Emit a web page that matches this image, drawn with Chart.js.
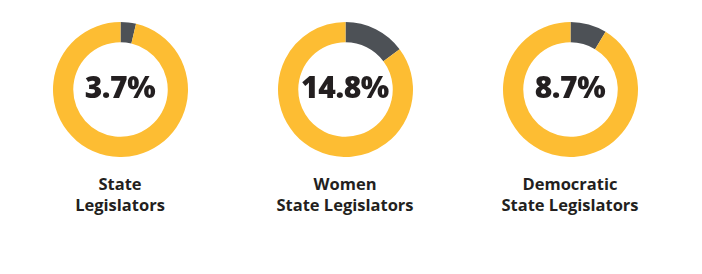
<!DOCTYPE html>
<html>
<head>
<meta charset="utf-8">
<script src="https://cdn.jsdelivr.net/npm/chart.js@4"></script>
<style>
  html, body { margin: 0; padding: 0; background: #ffffff; }
  body { width: 702px; height: 274px; position: relative; overflow: hidden; font-family: "Open Sans", sans-serif; }
  .wrap { position: absolute; }
  .wrap canvas { position: absolute; left: 0; top: 0; }
  .center { position: absolute; font-weight: 800; font-size: 30px; color: #231f20; text-align: center; white-space: nowrap; letter-spacing: -0.4px; }
  .label { position: absolute; font-weight: 700; font-size: 16.5px; line-height: 21px; color: #231f20; text-align: center; white-space: nowrap; width: 220px; }
</style>
</head>
<body>
<script>
const categories = [["State", "Legislators"], ["Women", "State Legislators"], ["Democratic", "State Legislators"]];
const shareValues = [3.7, 14.8, 8.7];
const centerLabels = ["3.7%", "14.8%", "8.7%"];

const centersX = [120, 345, 570];
const centerY = 89.5;
const size = 135;
const grey = "#4d5156";
const yellow = "#fdbd33";

categories.forEach((cat, i) => {
  const wrap = document.createElement("div");
  wrap.className = "wrap";
  wrap.style.left = (centersX[i] - size / 2) + "px";
  wrap.style.top = (centerY - size / 2) + "px";
  wrap.style.width = size + "px";
  wrap.style.height = size + "px";
  const canvas = document.createElement("canvas");
  canvas.width = size; canvas.height = size;
  canvas.style.width = size + "px"; canvas.style.height = size + "px";
  wrap.appendChild(canvas);
  document.body.appendChild(wrap);

  new Chart(canvas, {
    type: "doughnut",
    data: {
      labels: ["Share", "Rest"],
      datasets: [{
        data: [shareValues[i], 100 - shareValues[i]],
        backgroundColor: [grey, yellow],
        borderWidth: 0,
        hoverOffset: 0
      }]
    },
    options: {
      responsive: false,
      animation: false,
      cutout: "70%",
      rotation: 0,
      layout: { padding: 0 },
      plugins: { legend: { display: false }, tooltip: { enabled: false } },
      events: []
    }
  });

  const c = document.createElement("div");
  c.className = "center";
  c.textContent = centerLabels[i];
  c.style.left = (centersX[i] - 100) + "px";
  c.style.width = "200px";
  c.style.top = (centerY - 24) + "px";
  document.body.appendChild(c);

  const l = document.createElement("div");
  l.className = "label";
  l.innerHTML = cat.map(s => s.replace(/&/g, "&amp;")).join("<br>");
  l.style.left = (centersX[i] - 110) + "px";
  l.style.top = "173px";
  document.body.appendChild(l);
});
</script>
</body>
</html>
